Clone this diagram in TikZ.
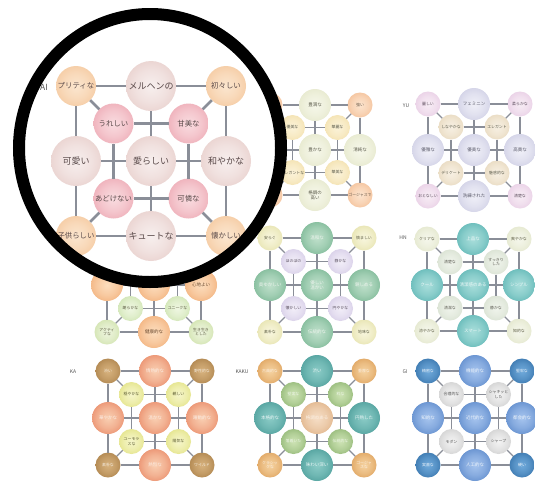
\documentclass[tikz,border=0pt]{standalone}
\usepackage{fontspec}
\newfontfamily\jp{Noto Sans CJK JP}
\colorlet{sphin}{white}\colorlet{sphout}{gray}
\pgfdeclareradialshading[sphin,sphout]{sphere}{\pgfpoint{0bp}{0bp}}{color(0bp)=(sphin);color(16bp)=(sphin!75!sphout);color(50bp)=(sphout)}
\definecolor{linkc}{HTML}{8A8E98}
\definecolor{labc}{HTML}{555555}
\newcommand\setpal[8]{\definecolor{pCi}{HTML}{#1}\definecolor{pCo}{HTML}{#2}\definecolor{pEi}{HTML}{#3}\definecolor{pEo}{HTML}{#4}\definecolor{pMi}{HTML}{#5}\definecolor{pMo}{HTML}{#6}\definecolor{pIi}{HTML}{#7}\definecolor{pIo}{HTML}{#8}}
\newcommand\settxt[4]{\definecolor{pCt}{HTML}{#1}\definecolor{pEt}{HTML}{#2}\definecolor{pMt}{HTML}{#3}\definecolor{pIt}{HTML}{#4}}
\newcommand\chartA[9]{\def\chP{#1}\def\chX{#2}\def\chY{#3}\def\chS{#4}%
 \def\chTL{#5}\def\chTM{#6}\def\chTR{#7}\def\chML{#8}\def\chC{#9}\chartB}
\newcommand\chartB[8]{%
 \node[nCorner] (\chP-TL) at ({\chX-\chS},{\chS-\chY}) {\chTL};
 \node[nEdge] (\chP-TM) at ({\chX},{\chS-\chY}) {\chTM};
 \node[nCorner] (\chP-TR) at ({\chX+\chS},{\chS-\chY}) {\chTR};
 \node[nEdge] (\chP-ML) at ({\chX-\chS},{-\chY}) {\chML};
 \node[nCenter] (\chP-C) at ({\chX},{-\chY}) {\chC};
 \node[nEdge] (\chP-MR) at ({\chX+\chS},{-\chY}) {#1};
 \node[nCorner] (\chP-BL) at ({\chX-\chS},{-\chS-\chY}) {#2};
 \node[nEdge] (\chP-BM) at ({\chX},{-\chS-\chY}) {#3};
 \node[nCorner] (\chP-BR) at ({\chX+\chS},{-\chS-\chY}) {#4};
 \node[nInner] (\chP-iTL) at ({\chX-\chS/2},{\chS/2-\chY}) {#5};
 \node[nInner] (\chP-iTR) at ({\chX+\chS/2},{\chS/2-\chY}) {#6};
 \node[nInner] (\chP-iBL) at ({\chX-\chS/2},{-\chS/2-\chY}) {#7};
 \node[nInner] (\chP-iBR) at ({\chX+\chS/2},{-\chS/2-\chY}) {#8};
 \foreach \la/\lb in {TL/TM,TM/TR,TR/MR,MR/BR,BR/BM,BM/BL,BL/ML,ML/TL,TM/C,C/BM,ML/C,C/MR,iTL/iTR,iTR/iBR,iBR/iBL,iBL/iTL,TL/iTL,TR/iTR,BL/iBL,BR/iBR}{\draw[link] (\chP-\la) -- (\chP-\lb);}
}
\tikzset{
 pal/.code 2 args={\colorlet{sphin}{#1}\colorlet{sphout}{#2}},
 ball/.style={circle, inner sep=0pt, outer sep=0pt, shading=sphere, align=center},
 link/.style={draw=linkc, line width=1.1pt},
 nCorner/.style={ball, minimum size=25pt, pal={pCi}{pCo}, text=pCt, font=\jp\fontsize{3.9}{4.5}\selectfont},
 nEdge/.style={ball, minimum size=32pt, pal={pEi}{pEo}, text=pEt, font=\jp\fontsize{4.5}{5.1}\selectfont},
 nCenter/.style={ball, minimum size=32pt, pal={pMi}{pMo}, text=pMt, font=\jp\fontsize{4.5}{5.1}\selectfont},
 nInner/.style={ball, minimum size=25pt, pal={pIi}{pIo}, text=pIt, font=\jp\fontsize{3.9}{4.5}\selectfont},
 lab/.style={font=\jp\fontsize{5}{6}\selectfont, text=labc, inner sep=0pt},
}
\def\lensring{(150,-148) ellipse [x radius=131pt, y radius=134pt]}
\begin{document}
\begin{tikzpicture}[x=1pt,y=1pt]
\fill[white] (0,0) rectangle (535,-482);
\useasboundingbox (0,0) rectangle (535,-482);
% ---- row 1, middle
\begin{scope}
\setpal{FCE4CE}{EDA46E}{F6F7EA}{D9DDB5}{F6F7EA}{D9DDB5}{FBF3D9}{EDD28C}
\settxt{6A5A4A}{5A5A4A}{5A5A4A}{5A5A4A}
\chartA{ra}{315}{150}{45}{}{豊満な}{強い}{}{豊かな}{清純な}{}{格調の\\高い}{ゴージャスで}{優美な}{華麗な}{エレガントな}{華美な}
\end{scope}
% ---- YU
\begin{scope}
\setpal{F7EDF5}{DDB5D8}{F0F0F8}{B6B6D6}{F0F0F8}{B6B6D6}{F7F0E3}{DCC7A2}
\settxt{5A4A5A}{5A5A6A}{5A5A6A}{5A5A4A}
\chartA{yu}{474}{150}{46}{麗しい}{フェミニン}{柔らかな}{優雅な}{優美な}{高貴な}{おとなしい}{洗練された}{清楚な}{しなやかな}{エレガント}{デリケート}{魅惑的な}
\node[lab] (yu-lab) at (406,-106) {YU};
\end{scope}
% ---- row 2, left
\begin{scope}
\setpal{EEF5DF}{B9D486}{FCDDBD}{EB8F4A}{FCDDBD}{EB8F4A}{EFF7E2}{B5D58C}
\settxt{5A5A40}{6A4A30}{6A4A30}{5A5A40}
\chartA{rc}{154}{285}{47}{}{}{}{}{}{心地よい}{アクティ\\ブな}{健康的な}{生き生き\\とした}{}{}{朗らかな}{ユニークな}
\end{scope}
% ---- row 2, middle
\begin{scope}
\setpal{F8F6DE}{D8D488}{BFE0CB}{4A9A6E}{BFE0CB}{4A9A6E}{F2EEF8}{C0B3DA}
\settxt{5A5A40}{EEF4EE}{EEF4EE}{5A5060}
\chartA{rd}{317}{285}{47}{安らぐ}{温和な}{慎ましい}{奥ゆかしい}{優しい\\温かい}{親しめる}{素朴な}{伝統的な}{地味な}{ほのぼの}{静かな}{懐かしい}{円やかな}
\end{scope}
% ---- HN
\begin{scope}
\setpal{F5F7EC}{D5DAB3}{A9DEDB}{2A9A9A}{A9DEDB}{2A9A9A}{F0F4EC}{C5D2BC}
\settxt{5A5A40}{EEF8F8}{EEF8F8}{5A5A50}
\chartA{hn}{473}{285}{46}{クリアな}{上品な}{爽やかな}{クール}{清潔感のある}{シンプル}{涼やかな}{スマート}{知的な}{清楚な}{すっきり\\した}{清潔な}{静かな}
\node[lab] (hn-lab) at (403,-238) {HN};
\end{scope}
% ---- KA
\begin{scope}
\setpal{D7B27E}{8C5E24}{F9CFB2}{DE5A34}{F9CFB2}{DE5A34}{F6F6CB}{D4D450}
\settxt{F4ECE0}{FBEDE4}{FBEDE4}{5A5A30}
\chartA{ka}{155}{418}{47}{渋い}{情熱的な}{野性的な}{華やかな}{温かな}{躍動的な}{素朴な}{熱烈な}{ワイルド}{穏やかな}{親しい}{ユーモラ\\スな}{陽気な}
\node[lab] (ka-lab) at (73,-372) {KA};
\end{scope}
% ---- KAKU
\begin{scope}
\setpal{F5D2A0}{CD7E2A}{8ACBC6}{1F7C7A}{F6DEC6}{CF935A}{CDE3B4}{659646}
\settxt{FBF0E4}{E8F4F4}{FBF0E4}{EEF6E8}
\chartA{kk}{317}{418}{47}{古典的な}{渋い}{重厚な}{本格的な}{格調のある}{円熟した}{クラシッ\\クな}{味わい深い}{ゴージャ\\スな}{堅実な}{粋な}{落着いた}{伝統的な}
\node[lab] (kk-lab) at (242,-372) {KAKU};
\end{scope}
% ---- GI
\begin{scope}
\setpal{70AADB}{0B4A87}{A6C4EE}{2860B2}{A6C4EE}{2860B2}{F3F3F3}{B4B4B4}
\settxt{EEF4FA}{EEF4FA}{EEF4FA}{555555}
\chartA{gi}{475}{418}{47}{精密な}{機能的な}{堅牢な}{知的な}{近代的な}{都会的な}{実直な}{人工的な}{硬い}{合理的な}{シャキッと\\した}{モダン}{シャープ}
\node[lab] (gi-lab) at (405,-372) {GI};
\end{scope}
% ---- magnifier
\fill[white] \lensring;
\begin{scope}[
 link/.style={draw=linkc, line width=2.6pt},
 nCorner/.style={ball, minimum size=40pt, pal={pCi}{pCo}, text=pCt, font=\jp\fontsize{7.4}{8.5}\selectfont},
 nEdge/.style={ball, minimum size=50pt, pal={pEi}{pEo}, text=pEt, font=\jp\fontsize{9}{10}\selectfont},
 nCenter/.style={ball, minimum size=50pt, pal={pMi}{pMo}, text=pMt, font=\jp\fontsize{9}{10}\selectfont},
 nInner/.style={ball, minimum size=40pt, pal={pIi}{pIo}, text=pIt, font=\jp\fontsize{7.4}{8.5}\selectfont}]
\clip \lensring;
\setpal{FBE6CF}{F0B27A}{F7EFEE}{DDB7B2}{F7EFEE}{DDB7B2}{F9DCE0}{E58595}
\settxt{5A4A4A}{5A4A4A}{5A4A4A}{5A4A4A}
\chartA{ai}{151}{161}{75}{プリティな}{メルヘンの}{初々しい}{可愛い}{愛らしい}{和やかな}{子供らしい}{キュートな}{懐かしい}{うれしい}{甘美な}{あどけない}{可憐な}
\node[lab, font=\jp\fontsize{8.5}{9}\selectfont] (ai-lab) at (44,-87) {AI};
\end{scope}
\draw[line width=12pt] \lensring;
\end{tikzpicture}
\end{document}
